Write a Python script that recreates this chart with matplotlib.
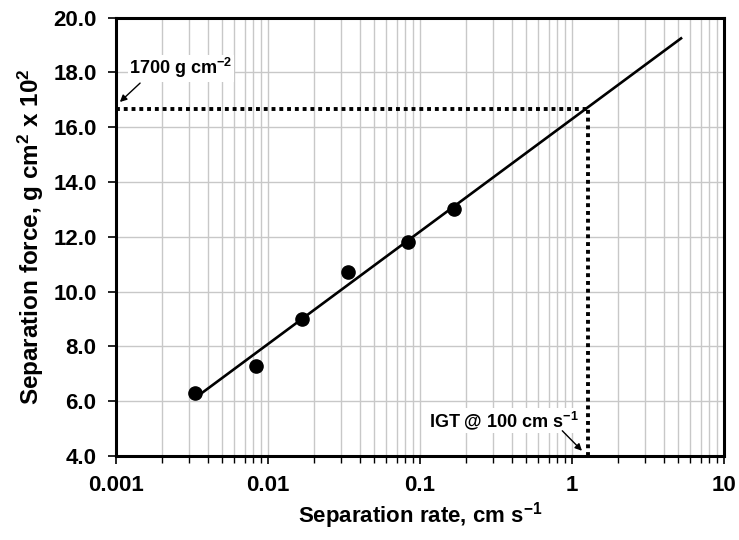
import numpy as np
import matplotlib.pyplot as plt
from matplotlib.ticker import FixedLocator, FixedFormatter, LogLocator, FormatStrFormatter, NullFormatter

plt.rcParams['font.family'] = ['Liberation Sans', 'DejaVu Sans']
plt.rcParams['font.weight'] = 'bold'
plt.rcParams['mathtext.fontset'] = 'custom'
plt.rcParams['mathtext.rm'] = 'Liberation Sans:bold'
plt.rcParams['mathtext.bf'] = 'Liberation Sans:bold'
plt.rcParams['mathtext.default'] = 'bf'

rate = [0.00333, 0.00833, 0.0167, 0.0333, 0.0833, 0.167]  # cm/s
force = [6.3, 7.3, 9.0, 10.7, 11.8, 13.0]  # g cm-2 x 10^2

fit_x = [0.00333, 5.2]  # trendline extent
igt_rate = 1.28  # cm/s, where the line meets 1700 g cm-2
igt_force = 16.65

xticks = [0.001, 0.01, 0.1, 1, 10]
xticklabels = ['0.001', '0.01', '0.1', '1', '10']
yticks = [4, 6, 8, 10, 12, 14, 16, 18, 20]

# log fit of force vs rate
b, a = np.polyfit(np.log10(rate), force, 1)
fit_y = [a + b * np.log10(v) for v in fit_x]

fig = plt.figure(figsize=(7.39, 5.40), dpi=100)
ax = fig.add_axes([0.157, 0.1556, 0.823, 0.8118])

ax.set_xscale('log')
ax.set_xlim(0.001, 10)
ax.set_ylim(4, 20)

ax.grid(True, which='both', axis='x', color='#c8c8c8', lw=1.0)
ax.grid(True, which='major', axis='y', color='#c8c8c8', lw=1.0)
ax.set_axisbelow(True)

ax.plot(fit_x, fit_y, color='black', lw=1.9, zorder=3)
ax.plot(rate, force, 'o', color='black', ms=9.5, zorder=4)

# dotted guides
ax.plot([0.001, igt_rate], [igt_force, igt_force], color='black', lw=2.8,
        ls=(0, (1, 1)), zorder=3, clip_on=False)
ax.plot([igt_rate, igt_rate], [4, igt_force], color='black', lw=2.8,
        ls=(0, (1, 1)), zorder=3, clip_on=False)

# annotations
ax.text(0.00267, 18.16, '1700 g cm$^{-2}$', fontsize=13, fontweight='bold',
        ha='center', va='center', zorder=5,
        bbox=dict(facecolor='white', edgecolor='none', pad=1))
ax.annotate('', xy=(0.00106, 16.92), xytext=(0.00144, 17.61),
            arrowprops=dict(arrowstyle='-|>', color='black', lw=1,
                            mutation_scale=10, shrinkA=0, shrinkB=0), zorder=5)

ax.text(0.353, 5.29, 'IGT @ 100 cm s$^{-1}$', fontsize=13, fontweight='bold',
        ha='center', va='center', zorder=5,
        bbox=dict(facecolor='white', edgecolor='none', pad=1))
ax.annotate('', xy=(1.16, 4.19), xytext=(0.861, 4.92),
            arrowprops=dict(arrowstyle='-|>', color='black', lw=1,
                            mutation_scale=10, shrinkA=0, shrinkB=0), zorder=5)

ax.xaxis.set_major_locator(FixedLocator(xticks))
ax.xaxis.set_major_formatter(FixedFormatter(xticklabels))
ax.xaxis.set_minor_locator(LogLocator(base=10, subs=np.arange(2, 10)))
ax.xaxis.set_minor_formatter(NullFormatter())
ax.set_yticks(yticks)
ax.yaxis.set_major_formatter(FormatStrFormatter('%.1f'))

ax.tick_params(axis='both', which='major', direction='out', labelsize=16,
               width=1.2, length=6, pad=8)
ax.tick_params(axis='x', which='minor', direction='out', width=1.0, length=5)
ax.tick_params(axis='y', which='minor', left=False)
for lab in ax.get_xticklabels() + ax.get_yticklabels():
    lab.set_fontweight('bold')

for s in ax.spines.values():
    s.set_linewidth(2.2)

ax.set_xlabel('Separation rate, cm s$^{-1}$', fontsize=16, fontweight='bold', labelpad=3)
ax.set_ylabel('Separation force, g cm$^{2}$ x 10$^{2}$', fontsize=17.5,
              fontweight='bold', labelpad=5)

fig.savefig('out.png', dpi=100)
